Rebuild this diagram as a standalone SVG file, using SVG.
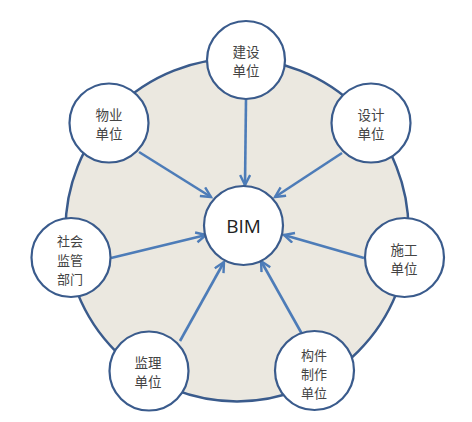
<svg xmlns="http://www.w3.org/2000/svg" width="472" height="422" viewBox="0 0 472 422">
<style>
.bg{fill:#ebe8e0;stroke:#3a5b8c;stroke-width:2.5}
.node{fill:#ffffff;stroke:#3a5b8c;stroke-width:2.2}
.t{font-family:"Noto Sans CJK SC","Noto Sans",sans-serif;font-size:13.5px;fill:#444;text-anchor:middle}
.t3{font-size:13px}
.bim{font-family:"Open Sans","Liberation Sans",sans-serif;font-size:19px;fill:#222;text-anchor:middle}
.c line{stroke:#4d7cb8;stroke-width:2.6;marker-end:url(#ah)}
</style>
<defs>
<marker id="ah" markerUnits="userSpaceOnUse" markerWidth="14" markerHeight="14" refX="11" refY="6" orient="auto">
<path d="M1,1 L11,6 L1,11" fill="none" stroke="#4d7cb8" stroke-width="2.4" stroke-linejoin="miter"/>
</marker>
</defs>
<rect width="472" height="422" fill="#ffffff"/>
<circle class="bg" cx="237" cy="230" r="171.5"/>
<g class="c" id="connectors">
<line x1="246" y1="99" x2="245" y2="185"/>
<line x1="139" y1="152" x2="211" y2="197"/>
<line x1="342" y1="153" x2="275" y2="197"/>
<line x1="111" y1="258" x2="206" y2="235"/>
<line x1="364" y1="258" x2="284" y2="235"/>
<line x1="180" y1="341" x2="224" y2="262"/>
<line x1="302" y1="334" x2="261" y2="261"/>
</g>
<g id="bim"><circle class="node" cx="243.5" cy="225.5" r="39.5"/><text class="bim" x="243.5" y="233">BIM</text></g>
<g id="jianshe"><circle class="node" cx="246" cy="60" r="39"/><text class="t" x="246" y="57">建设<tspan x="246" dy="19">单位</tspan></text></g>
<g id="wuye"><circle class="node" cx="109" cy="123" r="39.5"/><text class="t" x="109" y="120">物业<tspan x="109" dy="19">单位</tspan></text></g>
<g id="sheji"><circle class="node" cx="371" cy="123" r="39.5"/><text class="t" x="371" y="120">设计<tspan x="371" dy="19">单位</tspan></text></g>
<g id="shehui"><circle class="node" cx="71" cy="257.5" r="39.5"/><text class="t t3" x="70" y="245.5">社会<tspan x="70" dy="19">监管</tspan><tspan x="70" dy="19">部门</tspan></text></g>
<g id="shigong"><circle class="node" cx="404.5" cy="257.5" r="39.5"/><text class="t" x="404" y="255">施工<tspan x="404" dy="19">单位</tspan></text></g>
<g id="jianli"><circle class="node" cx="149" cy="371" r="39.5"/><text class="t" x="148" y="368">监理<tspan x="148" dy="19">单位</tspan></text></g>
<g id="goujian"><circle class="node" cx="314.5" cy="370.5" r="39.5"/><text class="t t3" x="314" y="359.5">构件<tspan x="314" dy="19">制作</tspan><tspan x="314" dy="19">单位</tspan></text></g>
</svg>
